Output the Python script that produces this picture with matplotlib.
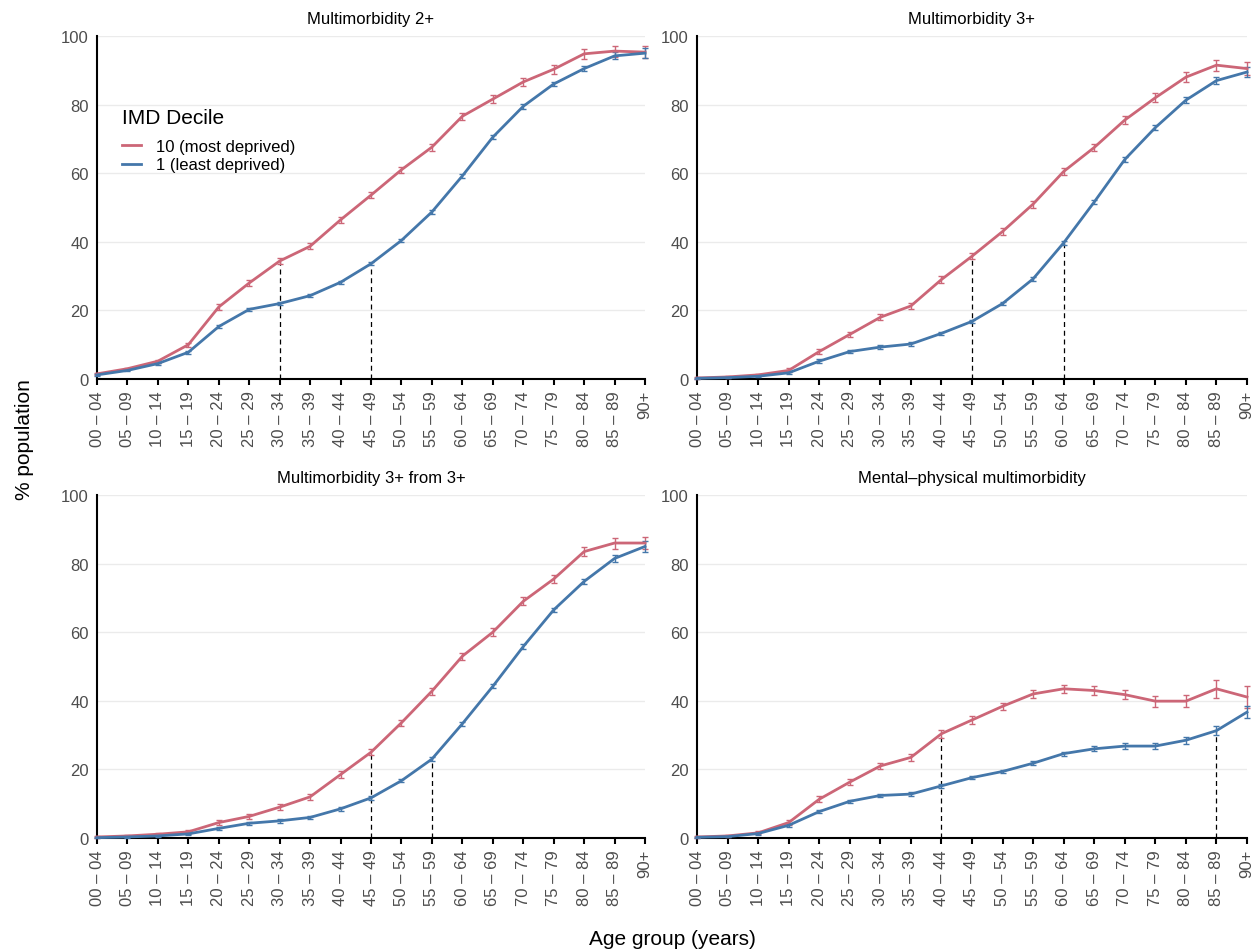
import matplotlib
matplotlib.use("Agg")
import matplotlib.pyplot as plt
from matplotlib.lines import Line2D
import numpy as np

plt.rcParams['font.family'] = ['Liberation Sans', 'DejaVu Sans']

age_groups = ["00 – 04", "05 – 09", "10 – 14", "15 – 19", "20 – 24", "25 – 29",
              "30 – 34", "35 – 39", "40 – 44", "45 – 49", "50 – 54", "55 – 59",
              "60 – 64", "65 – 69", "70 – 74", "75 – 79", "80 – 84", "85 – 89", "90+"]

titles = ["Multimorbidity 2+", "Multimorbidity 3+",
          "Multimorbidity 3+ from 3+", "Mental–physical multimorbidity"]

mm2_most = [1.5, 3.0, 5.2, 10.0, 21.0, 28.0, 34.4, 38.7, 46.4, 53.6, 61.0, 67.6,
            76.6, 81.6, 86.6, 90.3, 94.8, 95.6, 95.3]
mm2_least = [1.2, 2.5, 4.5, 7.8, 15.3, 20.3, 22.0, 24.3, 28.2, 33.6, 40.4, 48.7,
             59.2, 70.5, 79.5, 86.0, 90.5, 94.2, 95.0]
mm3_most = [0.3, 0.6, 1.2, 2.5, 8.0, 13.0, 18.0, 21.3, 29.0, 35.8, 43.0, 51.0,
            60.5, 67.5, 75.5, 82.0, 88.0, 91.5, 90.5]
mm3_least = [0.2, 0.4, 0.8, 1.8, 5.2, 8.0, 9.3, 10.2, 13.3, 16.8, 22.0, 29.2,
             39.7, 51.6, 64.0, 73.3, 81.3, 87.0, 89.5]
mm33_most = [0.3, 0.6, 1.1, 1.8, 4.5, 6.3, 9.0, 12.0, 18.5, 25.0, 33.6, 42.8,
             53.0, 60.0, 69.0, 75.5, 83.5, 86.0, 86.0]
mm33_least = [0.1, 0.3, 0.6, 1.2, 2.8, 4.3, 5.0, 6.0, 8.5, 11.7, 16.7, 23.0,
              33.3, 44.2, 55.8, 66.5, 74.8, 81.5, 85.0]
mp_most = [0.3, 0.6, 1.5, 4.5, 11.3, 16.3, 21.0, 23.5, 30.4, 34.4, 38.4, 42.0,
           43.5, 43.0, 41.8, 39.9, 39.9, 43.5, 41.1]
mp_least = [0.2, 0.4, 1.3, 3.7, 7.7, 10.7, 12.4, 12.8, 15.2, 17.6, 19.4, 21.8,
            24.6, 26.0, 26.8, 26.8, 28.5, 31.3, 36.7]

# approximate 95% CI half-widths
err_most = [0.3, 0.3, 0.4, 0.6, 0.8, 0.8, 0.9, 0.9, 0.9, 0.9, 0.9, 1.0,
            1.0, 1.1, 1.2, 1.3, 1.4, 1.6, 1.8]
err_least = [0.2, 0.2, 0.3, 0.4, 0.5, 0.5, 0.5, 0.5, 0.5, 0.5, 0.5, 0.6,
             0.6, 0.6, 0.7, 0.7, 0.8, 1.0, 1.5]
err_mp_most = [0.3, 0.3, 0.4, 0.7, 0.8, 0.9, 1.0, 1.1, 1.1, 1.1, 1.1, 1.2,
               1.2, 1.3, 1.4, 1.6, 1.8, 2.6, 3.2]
err_mp_least = [0.2, 0.2, 0.3, 0.4, 0.5, 0.5, 0.5, 0.5, 0.5, 0.5, 0.5, 0.6,
                0.6, 0.7, 0.8, 0.9, 1.0, 1.3, 1.7]

# dashed markers: (age index, height)
dashed = [[(6, 34.4), (9, 33.6)],
          [(9, 35.8), (12, 39.7)],
          [(9, 25.0), (11, 23.0)],
          [(8, 30.4), (17, 31.3)]]

series = [(mm2_most, mm2_least, err_most, err_least),
          (mm3_most, mm3_least, err_most, err_least),
          (mm33_most, mm33_least, err_most, err_least),
          (mp_most, mp_least, err_mp_most, err_mp_least)]

legend_labels = ["10 (most deprived)", "1 (least deprived)"]

RED = "#CC6677"
BLUE = "#4477AA"

fig = plt.figure(figsize=(12.56, 9.53), dpi=100)
W, H = 1256, 953
boxes = [(97, 37, 645, 380), (697, 37, 1247, 380),
         (97, 496, 645, 839), (697, 496, 1247, 839)]

x = np.arange(len(age_groups))
for i, (l, t, r, b) in enumerate(boxes):
    ax = fig.add_axes([l / W, 1 - b / H, (r - l) / W, (b - t) / H])
    most, least, em, el = series[i]
    for yv in range(0, 101, 20):
        ax.axhline(yv, color="#ebebeb", lw=1.0, zorder=0)
    for xi, hv in dashed[i]:
        ax.plot([xi, xi], [0, hv], color="black", lw=0.9, ls=(0, (4, 3)), zorder=1)
    ax.errorbar(x, most, yerr=em, color=RED, lw=2, ecolor=RED, elinewidth=1,
                capsize=2, capthick=1, clip_on=False, zorder=3)
    ax.errorbar(x, least, yerr=el, color=BLUE, lw=2, ecolor=BLUE, elinewidth=1,
                capsize=2, capthick=1, clip_on=False, zorder=3)
    ax.set_xlim(0, len(age_groups) - 1)
    ax.set_ylim(0, 100)
    ax.set_xticks(x)
    ax.set_xticklabels(age_groups, rotation=90, fontsize=12, color="#4d4d4d")
    ax.set_yticks(range(0, 101, 20))
    ax.tick_params(axis="y", length=0, labelsize=12, labelcolor="#4d4d4d", pad=6)
    ax.tick_params(axis="x", length=4, width=1.5, color="black", pad=4)
    for s in ["top", "right"]:
        ax.spines[s].set_visible(False)
    for s in ["left", "bottom"]:
        ax.spines[s].set_linewidth(1.5)
        ax.spines[s].set_color("black")
    ax.set_title(titles[i], fontsize=12, pad=9)
    if i == 0:
        handles = [Line2D([], [], color=RED, lw=2), Line2D([], [], color=BLUE, lw=2)]
        leg = ax.legend(handles, legend_labels, loc="upper left",
                        bbox_to_anchor=(0.019, 0.835), frameon=False,
                        title="IMD Decile", fontsize=12, title_fontsize=15,
                        handlelength=1.1, handletextpad=0.9, labelspacing=0.2,
                        alignment="left")
        leg._legend_box.sep = 9

fig.text(24 / W, 1 - 440 / H, "% population", rotation=90, fontsize=15,
         ha="center", va="center")
fig.text(672 / W, 1 - 940 / H, "Age group (years)", fontsize=15,
         ha="center", va="center")

fig.savefig("out.png", dpi=100)
